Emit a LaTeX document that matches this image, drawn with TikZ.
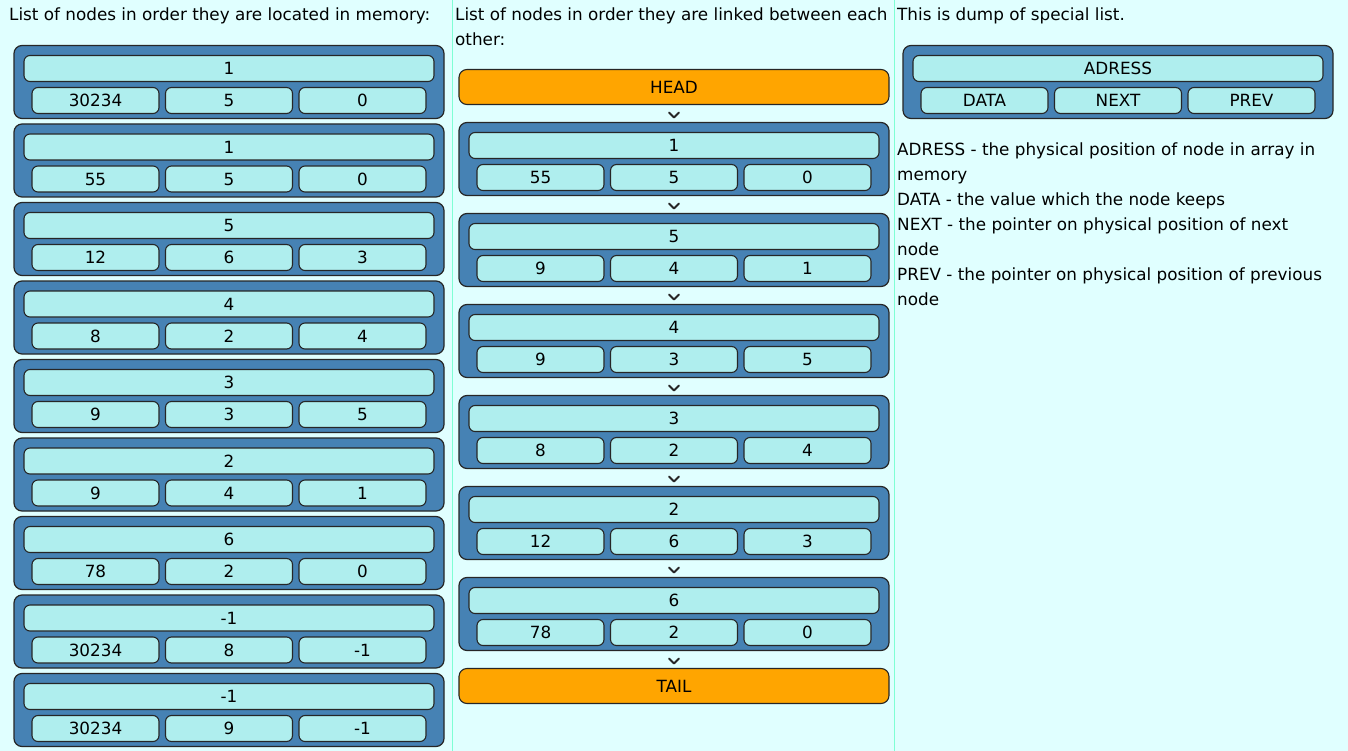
\documentclass[tikz,border=0pt]{standalone}
\usepackage{fontspec}
\setmainfont{DejaVu Sans}
\usepackage{xcolor}
\usepackage{tikz}
\usetikzlibrary{positioning,calc}

\definecolor{pagebg}{HTML}{E0FFFF}
\definecolor{boxblue}{HTML}{4682B4}
\definecolor{cellcyan}{HTML}{AFEEEE}
\definecolor{endorange}{HTML}{FFA500}
\definecolor{sepline}{HTML}{7FFFD4}

% one list element: name, placement, adress, data, next, prev
\newcommand{\listnode}[6]{%
  \node[outer,#2] (#1) {};
  \node[bar,below=10pt of #1.north] (#1adr) {#3};
  \node[cell,below right=42pt and 18pt of #1.north west] (#1data) {#4};
  \node[cell,right=6.5pt of #1data] (#1next) {#5};
  \node[cell,right=6.5pt of #1next] (#1prev) {#6};
}
% little "v" between two stacked boxes
\newcommand{\chevron}[2]{%
  \draw[chev] ($(#1.south)!.5!(#2.north)+(0,1.5)$) +(-5,-2.5) -- +(0,2.5) -- +(5,-2.5);
}

\begin{document}
\begin{tikzpicture}[x=1pt,y=-1pt,node distance=5.5pt,
    txt/.style={font=\fontsize{16.8}{25}\selectfont,inner sep=0pt,align=left},
    outer/.style={draw=black!85,line width=1.2pt,fill=boxblue,rounded corners=8pt,
                  minimum width=430pt,minimum height=73pt,inner sep=0pt,outer sep=0pt,
                  anchor=north west},
    bar/.style={draw=black!85,line width=1.1pt,fill=cellcyan,rounded corners=6pt,
                minimum width=410pt,minimum height=26pt,inner sep=0pt,outer sep=0pt,
                font=\fontsize{16.8}{18}\selectfont},
    cell/.style={bar,minimum width=127pt},
    ends/.style={bar,fill=endorange,minimum width=430pt,minimum height=35pt,
                 rounded corners=8pt,anchor=north west},
    chev/.style={line width=1.8pt,black!85,line cap=round,line join=round},
    sep/.style={sepline,line width=1pt}]

\fill[pagebg] (0,0) rectangle (1348,750);
\draw[sep] (452.5,0) -- (452.5,750);
\draw[sep] (894.5,0) -- (894.5,750);

% column headers
\node[txt,anchor=north west] (hmem) at (9,7.5) {List of nodes in order they are located in memory:};
\node[txt,anchor=north west] (hlink) at (455,7.5) {List of nodes in order they are linked between each\\other:};
\node[txt,anchor=north west] (hdump) at (897,7.5) {This is dump of special list.};

% nodes in memory order
\listnode{m1}{at={(14,45)}}{1}{30234}{5}{0}
\listnode{m2}{below=of m1}{1}{55}{5}{0}
\listnode{m3}{below=of m2}{5}{12}{6}{3}
\listnode{m4}{below=of m3}{4}{8}{2}{4}
\listnode{m5}{below=of m4}{3}{9}{3}{5}
\listnode{m6}{below=of m5}{2}{9}{4}{1}
\listnode{m7}{below=of m6}{6}{78}{2}{0}
\listnode{m8}{below=of m7}{-1}{30234}{8}{-1}
\listnode{m9}{below=of m8}{-1}{30234}{9}{-1}

% nodes in linked order
\node[ends] (head) at (459,69) {HEAD};
\listnode{l1}{below=18pt of head}{1}{55}{5}{0}
\listnode{l2}{below=18pt of l1}{5}{9}{4}{1}
\listnode{l3}{below=18pt of l2}{4}{9}{3}{5}
\listnode{l4}{below=18pt of l3}{3}{8}{2}{4}
\listnode{l5}{below=18pt of l4}{2}{12}{6}{3}
\listnode{l6}{below=18pt of l5}{6}{78}{2}{0}
\node[ends,below=18pt of l6,anchor=north] (tail) {TAIL};

\chevron{head}{l1}
\chevron{l1}{l2}
\chevron{l2}{l3}
\chevron{l3}{l4}
\chevron{l4}{l5}
\chevron{l5}{l6}
\chevron{l6}{tail}

% legend
\listnode{key}{at={(903,45)}}{ADRESS}{DATA}{NEXT}{PREV}
\node[txt,anchor=north west] (legend) at (897,142)
  {ADRESS - the physical position of node in array in\\
   memory\\
   DATA - the value which the node keeps\\
   NEXT - the pointer on physical position of next\\
   node\\
   PREV - the pointer on physical position of previous\\
   node};
\end{tikzpicture}
\end{document}
